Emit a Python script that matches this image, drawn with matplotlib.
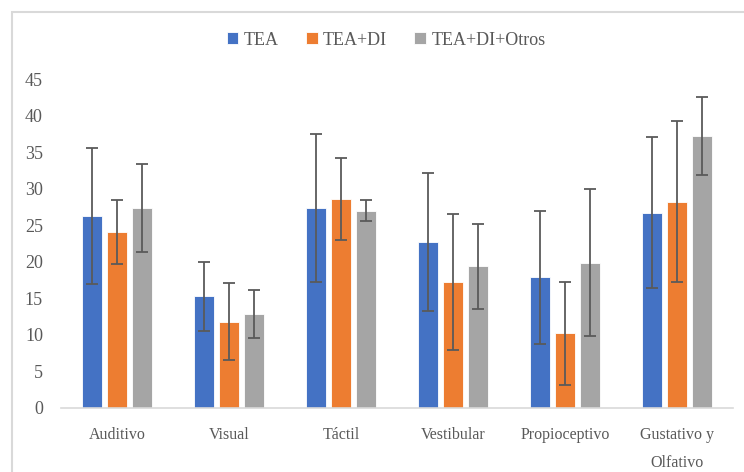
import matplotlib.pyplot as plt
import matplotlib.patches as mpatches
import numpy as np

plt.rcParams['font.family'] = ['Liberation Serif', 'DejaVu Serif']

# Sensory profile scores per group (mean and standard deviation)
categories = ['Auditivo', 'Visual', 'Táctil', 'Vestibular', 'Propioceptivo', 'Gustativo y\nOlfativo']
series_names = ['TEA', 'TEA+DI', 'TEA+DI+Otros']

tea = [26.2, 15.3, 27.4, 22.7, 17.9, 26.7]
tea_err = [9.3, 4.7, 10.1, 9.4, 9.1, 10.3]

tea_di = [24.1, 11.8, 28.6, 17.3, 10.2, 28.2]
tea_di_err = [4.4, 5.3, 5.6, 9.3, 7.1, 11.0]

tea_di_otros = [27.4, 12.9, 27.0, 19.4, 19.9, 37.2]
tea_di_otros_err = [6.0, 3.3, 1.4, 5.8, 10.0, 5.3]

colors = ['#4472c4', '#ed7d31', '#a5a5a5']
text_color = '#595959'

fig = plt.figure(figsize=(7.44, 4.72), dpi=100)
ax = fig.add_axes([0.082, 0.1356, 0.903, 0.697])

# Light frame round the chart, as in the spreadsheet export
frame = mpatches.Rectangle((12 / 744, -0.1), 1.1, 1 - 12 / 472 + 0.1,
                           transform=fig.transFigure, fill=False,
                           edgecolor='#d9d9d9', linewidth=1.5)
fig.patches.append(frame)

x = np.arange(len(categories))
offsets = [-0.223, 0, 0.223]
values = [tea, tea_di, tea_di_otros]
errors = [tea_err, tea_di_err, tea_di_otros_err]

for name, vals, errs, off, col in zip(series_names, values, errors, offsets, colors):
    ax.bar(x + off, vals, width=0.175, color=col, label=name,
           edgecolor='white', linewidth=0.6)
    ax.errorbar(x + off, vals, yerr=errs, fmt='none', ecolor='#5a5a5a',
                elinewidth=1.3, capsize=4, capthick=1.3)

ax.set_xlim(-0.5, len(categories) - 0.5)
ax.set_ylim(0, 45)
ax.set_yticks(range(0, 46, 5))
ax.set_xticks(x)
ax.set_xticklabels(categories, linespacing=2.0)

for side in ['top', 'right', 'left']:
    ax.spines[side].set_visible(False)
ax.spines['bottom'].set_color('#d9d9d9')
ax.spines['bottom'].set_linewidth(1.2)

ax.tick_params(axis='y', length=0, pad=13, labelsize=13, labelcolor=text_color)
ax.tick_params(axis='x', length=0, pad=14, labelsize=11.5, labelcolor=text_color)

leg = fig.legend(loc='center', bbox_to_anchor=(0.519, 0.915), ncol=3,
                 frameon=False, fontsize=13, handlelength=0.65, handleheight=0.65,
                 handletextpad=0.3, columnspacing=1.5)
for t in leg.get_texts():
    t.set_color(text_color)

fig.savefig('out.png', dpi=100)
